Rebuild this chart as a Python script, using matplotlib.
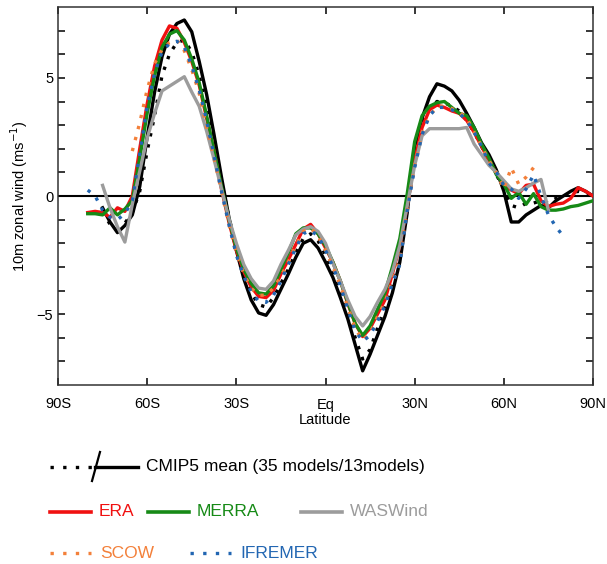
import numpy as np
import matplotlib
matplotlib.use("Agg")
import matplotlib.pyplot as plt

plt.rcParams['font.family'] = ['Liberation Sans', 'DejaVu Sans']

nan = np.nan

# latitude grid (2.5 deg), -80 .. 90
lat = [-80, -77.5, -75, -72.5, -70, -67.5, -65, -62.5, -60, -57.5,
       -55, -52.5, -50, -47.5, -45, -42.5, -40, -37.5, -35, -32.5,
       -30, -27.5, -25, -22.5, -20, -17.5, -15, -12.5, -10, -7.5,
       -5, -2.5, 0, 2.5, 5, 7.5, 10, 12.5, 15, 17.5,
       20, 22.5, 25, 27.5, 30, 32.5, 35, 37.5, 40, 42.5,
       45, 47.5, 50, 52.5, 55, 57.5, 60, 62.5, 65, 67.5,
       70, 72.5, 75, 77.5, 80, 82.5, 85, 87.5, 90]

cmip_13 = [nan, nan, -0.5, -1.1, -1.55, -1.25, -0.8, 0.4, 2.5, 4.4,
           5.9, 6.85, 7.3, 7.45, 6.95, 5.7, 4.3, 2.6, 0.8, -0.9,
           -2.3, -3.5, -4.4, -4.95, -5.05, -4.6, -3.95, -3.3, -2.6, -2.0,
           -1.85, -2.2, -2.8, -3.45, -4.3, -5.2, -6.3, -7.4, -6.7, -5.9,
           -5.1, -4.1, -2.8, -0.7, 2.1, 3.3, 4.2, 4.75, 4.65, 4.45,
           4.05, 3.5, 2.9, 2.25, 1.75, 1.1, 0.2, -1.1, -1.1, -0.8,
           -0.6, -0.4, -0.5, -0.2, 0.0, 0.2, 0.35, 0.2, 0.0]

cmip_35 = [nan, nan, -0.65, -1.2, -1.4, -1.15, -0.7, 0.2, 1.9, 3.4,
           5.1, 6.0, 6.5, 6.6, 6.1, 5.1, 3.7, 2.2, 0.6, -0.9,
           -2.2, -3.3, -4.1, -4.6, -4.7, -4.3, -3.7, -3.1, -2.4, -1.8,
           -1.6, -1.9, -2.5, -3.2, -4.0, -5.0, -6.0, -6.9, -6.5, -5.6,
           -4.7, -3.7, -2.5, -0.6, 1.6, 3.0, 3.7, 4.0, 3.95, 3.8,
           3.6, 3.2, 2.7, 2.1, 1.5, 0.9, 0.3, -0.4, -0.5, -0.3,
           -0.3, -0.2, -0.3, -0.1, 0.0, 0.1, 0.2, 0.1, 0.0]

era = [-0.7, -0.65, -0.7, -0.9, -0.5, -0.65, 0.0, 2.0, 3.9, 5.5,
       6.6, 7.2, 7.1, 6.5, 5.7, 4.7, 3.3, 1.9, 0.3, -1.1,
       -2.3, -3.2, -3.85, -4.25, -4.3, -4.0, -3.3, -2.7, -2.05, -1.4,
       -1.2, -1.6, -2.2, -2.8, -3.6, -4.55, -5.4, -5.95, -5.6, -5.0,
       -4.4, -3.3, -2.1, -0.4, 1.5, 2.9, 3.65, 3.85, 3.75, 3.6,
       3.5, 3.2, 2.7, 2.1, 1.5, 0.95, 0.5, 0.25, 0.1, 0.45,
       0.5, -0.2, -0.45, -0.35, -0.3, -0.1, 0.35, 0.2, 0.0]

merra = [-0.75, -0.75, -0.8, -0.5, -0.8, -0.55, -0.2, 1.6, 3.5, 5.1,
         6.3, 6.85, 7.0, 6.6, 5.8, 4.8, 3.4, 1.9, 0.4, -1.0,
         -2.2, -3.1, -3.7, -4.1, -4.15, -3.8, -3.1, -2.4, -1.6, -1.35,
         -1.35, -1.6, -2.1, -2.8, -3.6, -4.5, -5.4, -5.9, -5.5, -4.8,
         -4.1, -3.0, -1.8, 0.1, 2.3, 3.4, 3.8, 3.95, 4.0, 3.75,
         3.5, 3.4, 2.9, 2.2, 1.6, 0.9, 0.5, -0.1, 0.15, -0.35,
         0.1, -0.45, -0.6, -0.6, -0.55, -0.45, -0.4, -0.3, -0.2]

waswind = [nan, nan, 0.45, -0.5, -1.3, -1.95, -0.35, 1.05, 2.45, 3.5,
           4.45, 4.65, 4.85, 5.05, 4.4, 3.8, 2.75, 1.55, 0.3, -0.95,
           -2.0, -2.9, -3.5, -3.9, -3.95, -3.6, -2.9, -2.3, -1.65, -1.4,
           -1.3, -1.5, -2.0, -2.85, -3.6, -4.4, -5.1, -5.5, -5.1, -4.5,
           -3.95, -3.2, -2.1, -0.4, 1.3, 2.55, 2.85, 2.85, 2.85, 2.85,
           2.85, 2.9, 2.2, 1.75, 1.3, 1.0, 0.65, 0.3, 0.2, 0.35,
           0.55, 0.7, -0.6, nan, nan, nan, nan, nan, nan]

scow = [nan, nan, nan, nan, nan, nan, 1.9, 3.1, 4.5, 5.6,
        6.2, 6.5, 6.6, 6.15, 5.35, 4.35, 2.9, 1.6, 0.2, -1.2,
        -2.4, -3.3, -3.9, -4.2, -4.2, -3.9, -3.4, -2.8, -2.1, -1.5,
        -1.35, -1.7, -2.3, -3.0, -3.8, -4.7, -5.6, -6.1, -5.8, -5.1,
        -4.5, -3.6, -2.7, -0.6, 1.3, 2.7, 3.4, 3.8, 3.8, 3.7,
        3.55, 3.3, 2.7, 2.1, 1.5, 1.0, 0.3, 1.2, 0.5, 0.8,
        1.2, nan, nan, nan, nan, nan, nan, nan, nan]

ifremer = [0.25, 0.0, -0.6, -0.9, -1.0, -0.75, -0.2, 1.8, 3.8, 5.2,
           6.1, 6.45, 6.55, 6.3, 5.5, 4.5, 3.2, 1.7, 0.2, -1.2,
           -2.5, -3.4, -4.05, -4.45, -4.5, -4.2, -3.6, -2.9, -2.2, -1.6,
           -1.45, -1.7, -2.3, -3.0, -3.8, -4.8, -5.7, -6.15, -5.9, -5.3,
           -4.65, -3.7, -2.9, -0.6, 1.2, 2.6, 3.4, 3.75, 3.75, 3.65,
           3.5, 3.2, 2.7, 2.1, 1.4, 1.0, 0.45, 0.3, -0.1, 0.3,
           0.9, 0.0, -0.8, -1.3, -1.7, nan, nan, nan, nan]

xticks = [-90, -60, -30, 0, 30, 60, 90]
xticklabels = ['90S', '60S', '30S', 'Eq', '30N', '60N', '90N']

c_red = '#f01010'
c_green = '#168a16'
c_gray = '#9c9c9c'
c_orange = '#f3803a'
c_blue = '#2266b2'
dots = (0, (1, 2.4))
dots_leg = (0, (1, 2.8))

fig = plt.figure(figsize=(6.07, 5.64), dpi=100)
ax = fig.add_axes([58/607, 1-385/564, 535/607, 378/564])

ax.axhline(0, color='black', lw=1.5, zorder=1)
ax.plot(lat, cmip_13, color='black', lw=2.4, zorder=2)
ax.plot(lat, cmip_35, color='black', lw=2.4, ls=dots, zorder=3)
ax.plot(lat, era, color=c_red, lw=2.4, zorder=4)
ax.plot(lat, merra, color=c_green, lw=2.4, zorder=5)
ax.plot(lat, waswind, color=c_gray, lw=2.4, zorder=6)
ax.plot(lat, scow, color=c_orange, lw=2.4, ls=dots, zorder=7)
ax.plot(lat, ifremer, color=c_blue, lw=2.4, ls=dots, zorder=8)

ax.set_xlim(-90, 90)
ax.set_ylim(-8, 8)
ax.set_xticks(xticks)
ax.set_xticklabels(xticklabels)
ax.set_yticks([-5, 0, 5])
ax.set_yticks(np.arange(-7, 8, 1), minor=True)
ax.tick_params(which='both', direction='in', top=True, right=True,
               length=5, width=1.1, labelsize=10.5)
ax.tick_params(axis='x', pad=9)
for s in ax.spines.values():
    s.set_linewidth(1.1)
    s.set_color('#333333')
ax.set_xlabel('Latitude', fontsize=10.5, labelpad=1)
ax.set_ylabel('10m zonal wind (ms$^{-1}$)', fontsize=10.5, labelpad=5)

# legend drawn in pixel space below the axes
lg = fig.add_axes([0, 0, 1, 1])
lg.set_xlim(0, 607)
lg.set_ylim(564, 0)
lg.axis('off')
lg.patch.set_alpha(0)

lg.plot([50, 92], [467, 467], color='black', lw=2.4, ls=dots_leg)
lg.plot([92, 100], [481, 452], color='black', lw=1.6)
lg.plot([95, 138], [467, 467], color='black', lw=2.4)
lg.text(146, 467, 'CMIP5 mean (35 models/13models)', fontsize=12.5,
        va='center', ha='left')

row2 = [(50, c_red, 'ERA'), (148, c_green, 'MERRA'), (301, c_gray, 'WASWind')]
for x0, c, name in row2:
    lg.plot([x0, x0+41], [512, 512], color=c, lw=2.6)
    lg.text(x0+49, 512, name, color=c, fontsize=12.5, va='center', ha='left')

row3 = [(50, c_orange, 'SCOW'), (190, c_blue, 'IFREMER')]
for x0, c, name in row3:
    lg.plot([x0, x0+41], [553, 553], color=c, lw=2.4, ls=dots_leg)
    lg.text(x0+50, 553, name, color=c, fontsize=12.5, va='center', ha='left')

fig.savefig('out.png', dpi=100)
